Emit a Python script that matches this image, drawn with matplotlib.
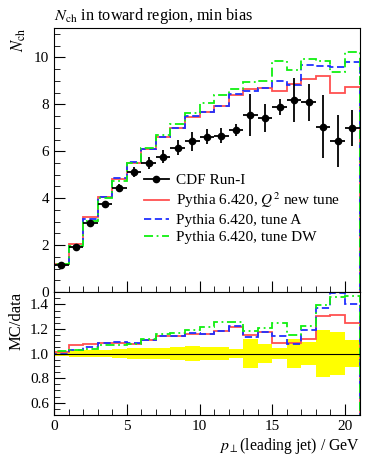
import numpy as np
import matplotlib
matplotlib.use("Agg")
import matplotlib.pyplot as plt
from matplotlib.lines import Line2D
from matplotlib.ticker import MultipleLocator

plt.rcParams['font.family'] = 'serif'
plt.rcParams['font.serif'] = ['Liberation Serif', 'DejaVu Serif']
plt.rcParams['mathtext.fontset'] = 'stix'

# bins: 0-1, 1-2, ..., 20-21 GeV
edges = np.arange(0, 22, 1.0)

data = [1.17, 1.91, 2.95, 3.74, 4.44, 5.11, 5.49, 5.77, 6.14, 6.42, 6.62,
        6.67, 6.90, 7.53, 7.42, 7.90, 8.18, 8.08, 7.05, 6.43, 6.99]
data_err = [0.02, 0.06, 0.09, 0.12, 0.16, 0.21, 0.25, 0.28, 0.32, 0.39, 0.33,
            0.33, 0.27, 0.89, 0.60, 0.34, 0.94, 0.78, 1.35, 1.11, 0.78]

q2_tune = [1.18, 2.05, 3.18, 4.06, 4.82, 5.52, 6.08, 6.61, 7.00, 7.46, 7.69,
           7.92, 8.38, 8.65, 8.71, 8.57, 8.88, 9.06, 9.21, 8.46, 8.74]
tune_a = [1.17, 1.96, 3.10, 4.06, 4.84, 5.54, 6.11, 6.61, 7.00, 7.51, 7.69,
          7.92, 8.44, 8.56, 8.71, 9.01, 8.81, 9.66, 9.64, 9.58, 9.79]
tune_dw = [1.19, 1.97, 3.05, 4.00, 4.75, 5.49, 6.15, 6.70, 7.18, 7.65, 8.04,
           8.38, 8.67, 8.94, 8.98, 9.84, 9.44, 9.92, 9.85, 9.39, 10.24]

labels = ['Pythia 6.420, $Q^2$ new tune', 'Pythia 6.420, tune A',
          'Pythia 6.420, tune DW']
colors = ['#ff5050', '#2030ff', '#10f010']
styles = ['-', (0, (4, 2)), (0, (5, 2, 1, 2))]

data = np.array(data)
data_err = np.array(data_err)
centers = 0.5 * (edges[:-1] + edges[1:])

fig = plt.figure(figsize=(3.74, 4.55), dpi=100)
ax = fig.add_axes([0.1444, 0.358, 0.817, 0.5805])
rax = fig.add_axes([0.1444, 0.088, 0.817, 0.270])

for mc, c, ls in zip([q2_tune, tune_a, tune_dw], colors, styles):
    ax.stairs(mc, edges, color=c, linestyle=ls, linewidth=1.3)
ax.errorbar(centers, data, yerr=data_err, xerr=0.5, fmt='o', color='black',
            markersize=4.5, elinewidth=1.3, capsize=0, zorder=5)

handles = [Line2D([], [], color='black', marker='o', markersize=4.5, lw=1.3)]
for c, ls in zip(colors, styles):
    handles.append(Line2D([], [], color=c, linestyle=ls, lw=1.3))
ax.legend(handles, ['CDF Run-I'] + labels, loc='upper left',
          bbox_to_anchor=(0.275, 0.473), frameon=False, fontsize=11,
          handlelength=1.6, handletextpad=0.5, labelspacing=0.22,
          borderaxespad=0.0)

ax.set_xlim(0, 21)
ax.set_ylim(0, 11.25)
ax.yaxis.set_major_locator(MultipleLocator(2))
ax.yaxis.set_minor_locator(MultipleLocator(0.5))
ax.xaxis.set_major_locator(MultipleLocator(5))
ax.xaxis.set_minor_locator(MultipleLocator(1))
ax.tick_params(axis='x', which='both', labelbottom=False)
ax.set_ylabel('$N_{\\rm ch}$', fontsize=12, loc='top')
ax.set_title('$N_{\\rm ch}$ in toward region, min bias', loc='left',
             fontsize=11.7, pad=6)

# ratio panel
rel = data_err / data
rax.stairs(1 + rel, edges, baseline=1 - rel, fill=True, color='#ffff00',
           linewidth=0)
for mc, c, ls in zip([q2_tune, tune_a, tune_dw], colors, styles):
    rax.stairs(np.array(mc) / data, edges, color=c, linestyle=ls,
               linewidth=1.3)
rax.axhline(1, color='black', lw=0.8)
rax.set_xlim(0, 21)
rax.set_ylim(0.5, 1.5)
rax.yaxis.set_major_locator(MultipleLocator(0.2))
rax.yaxis.set_minor_locator(MultipleLocator(0.05))
rax.xaxis.set_major_locator(MultipleLocator(5))
rax.xaxis.set_minor_locator(MultipleLocator(1))
rax.set_ylabel('MC/data', fontsize=12, loc='top')
rax.set_xlabel('$p_\\perp$(leading jet) / GeV', fontsize=11.3, loc='right',
               labelpad=2)

for a in (ax, rax):
    a.tick_params(which='both', direction='in', top=False, right=False,
                  labelsize=11)
    a.tick_params(which='major', length=8)
    a.tick_params(which='minor', length=4)
    for s in a.spines.values():
        s.set_linewidth(0.8)

fig.savefig('out.png', dpi=100)
